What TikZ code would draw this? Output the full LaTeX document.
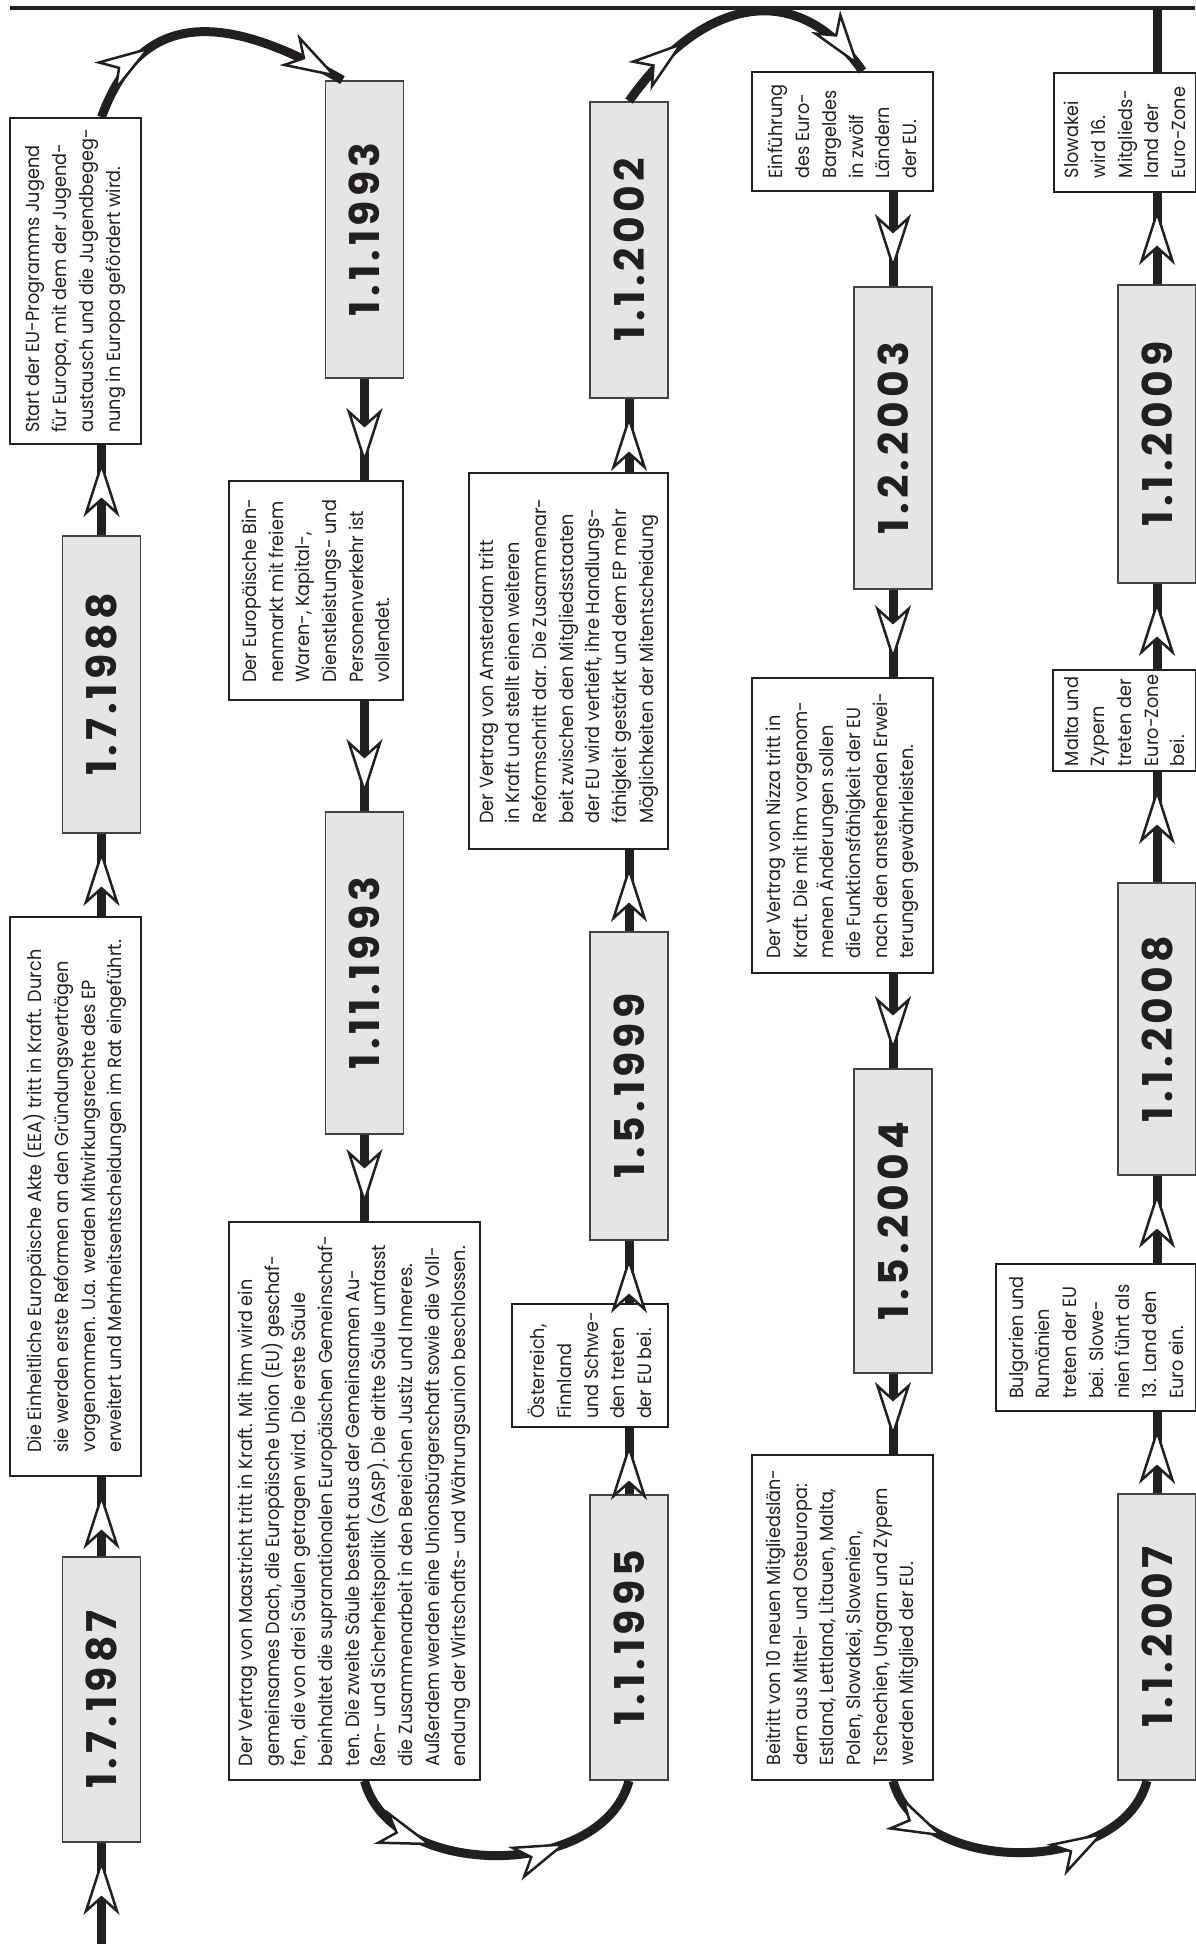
\documentclass[tikz,border=0pt]{standalone}
\usepackage{fontspec}
\setmainfont{Poppins}
\newfontfamily\bodyfont{Poppins}[FakeStretch=0.93]
\newfontfamily\datefont{Poppins}[LetterSpace=10]
\usetikzlibrary{arrows.meta, decorations.markings}
\definecolor{boxGray}{HTML}{E4E5E7}
\definecolor{inkBlack}{HTML}{231F20}
\tikzset{headTip/.tip={Stealth[length=56pt, width=36pt, inset=16pt, fill=white, line width=2.5pt]}}

\begin{document}
\begin{tikzpicture}[x=1pt, y=1pt, color=inkBlack,
    dateStyle/.style={draw=inkBlack!85, line width=1.8pt, fill=boxGray, rotate=90, minimum height=78pt, minimum width=#1, inner sep=0pt, font=\datefont\bfseries\fontsize{41}{41}\selectfont},
    textStyle/.style 2 args={draw=inkBlack, line width=1.8pt, fill=white, rotate=90, minimum height=#1, minimum width=#2, inner xsep=5pt, inner ysep=0pt, align=left, font=\bodyfont\fontsize{19}{26.7}\selectfont},
    flowStyle/.style={line width=9pt, decoration={markings, mark=at position -16pt with {\arrow{headTip}}}, postaction=decorate},
    bendStyle/.style 2 args={line width=9pt, decoration={markings, mark=at position #1 with {\arrow{headTip}}, mark=at position #2 with {\arrow{headTip}}}, postaction=decorate}]
    \useasboundingbox (0,0) rectangle (1195,-1944);
    \draw[line width=3.5pt] (10,-8) -- (1195,-8);

    \node[dateStyle=285pt](d1) at (101.5,-1699.5) {1.7.1987};
    \node[dateStyle=297pt](d2) at (101.5,-684.5) {1.7.1988};
    \node[dateStyle=297pt](d3) at (364.5,-229.5) {1.1.1993};
    \node[dateStyle=322pt](d4) at (364.5,-973) {1.11.1993};
    \node[dateStyle=285pt](d5) at (629,-1637.5) {1.1.1995};
    \node[dateStyle=308pt](d6) at (629,-1086) {1.5.1999};
    \node[dateStyle=296pt](d7) at (629,-250) {1.1.2002};
    \node[dateStyle=302pt](d8) at (893,-438) {1.2.2003};
    \node[dateStyle=304pt](d9) at (893,-1221) {1.5.2004};
    \node[dateStyle=286pt](d10) at (1157,-1637) {1.1.2007};
    \node[dateStyle=292pt](d11) at (1157,-1029) {1.1.2008};
    \node[dateStyle=298pt](d12) at (1157,-434) {1.1.2009};

    \node[textStyle={131pt}{559pt}](t1) at (75.5,-1196.5) {Die Einheitliche Europäische Akte (EEA) tritt in Kraft. Durch\\sie werden erste Reformen an den Gründungsverträgen\\vorgenommen. U.a. werden Mitwirkungsrechte des EP\\erweitert und Mehrheitsentscheidungen im Rat eingeführt.};
    \node[textStyle={131pt}{326pt}](t2) at (75.5,-281) {Start der EU-Programms Jugend\\für Europa, mit dem der Jugend-\\austausch und die Jugendbegeg-\\nung in Europa gefördert wird.};
    \node[textStyle={174pt}{219pt}](t3) at (316,-590.5) {Der Europäische Bin-\\nenmarkt mit freiem\\Waren-, Kapital-,\\Dienstleistungs- und\\Personenverkehr ist\\vollendet.};
    \node[textStyle={251pt}{558pt}](t4) at (354.5,-1501) {Der Vertrag von Maastricht tritt in Kraft. Mit ihm wird ein\\gemeinsames Dach, die Europäische Union (EU) geschaf-\\fen, die von drei Säulen getragen wird. Die erste Säule\\beinhaltet die supranationalen Europäischen Gemeinschaf-\\ten. Die zweite Säule besteht aus der Gemeinsamen Au-\\ßen- und Sicherheitspolitik (GASP). Die dritte Säule umfasst\\die Zusammenarbeit in den Bereichen Justiz und Inneres.\\Außerdem werden eine Unionsbürgerschaft sowie die Voll-\\endung der Wirtschafts- und Währungsunion beschlossen.};
    \node[textStyle={156pt}{123pt}](t5) at (590,-1365.5) {Österreich,\\Finnland\\und Schwe-\\den treten\\der EU bei.};
    \node[textStyle={199pt}{376pt}](t6) at (568.5,-661) {Der Vertrag von Amsterdam tritt\\in Kraft und stellt einen weiteren\\Reformschritt dar. Die Zusammenar-\\beit zwischen den Mitgliedsstaaten\\der EU wird vertieft, ihre Handlungs-\\fähigkeit gestärkt und dem EP mehr\\Möglichkeiten der Mitentscheidung};
    \node[textStyle={181pt}{119pt}](t7) at (842.5,-131.5) {Einführung\\des Euro-\\Bargeldes\\in zwölf\\Ländern\\der EU.};
    \node[textStyle={181pt}{295pt}](t8) at (842.5,-825.5) {Der Vertrag von Nizza tritt in\\Kraft. Die mit ihm vorgenom-\\menen Änderungen sollen\\die Funktionsfähigkeit der EU\\nach den anstehenden Erwei-\\terungen gewährleisten.};
    \node[textStyle={181pt}{325pt}](t9) at (842.5,-1617.5) {Beitritt von 10 neuen Mitgliedslän-\\dern aus Mittel- und Osteuropa:\\Estland, Lettland, Litauen, Malta,\\Polen, Slowakei, Slowenien,\\Tschechien, Ungarn und Zypern\\werden Mitglied der EU.};
    \node[textStyle={200pt}{147pt}](t10) at (1096,-1337.5) {Bulgarien und\\Rumänien\\treten der EU\\bei. Slowe-\\nien führt als\\13. Land den\\Euro ein.};
    \node[textStyle={143pt}{97pt}](t11) at (1124.5,-720.5) {Malta und\\Zypern\\treten der\\Euro-Zone\\bei.};
    \node[textStyle={142pt}{119pt}](t12) at (1125,-132.5) {Slowakei\\wird 16.\\Mitglieds-\\land der\\Euro-Zone};

    \coordinate (s0) at (101.5,-1944);
    \coordinate (e0) at (1157,-8);

    \draw[flowStyle] (s0) -- (d1.west);
    \draw[flowStyle] (d1.east) -- (d1.east |- t1.west);
    \draw[flowStyle] (t1.east -| d2) -- (d2.west);
    \draw[flowStyle] (d2.east) -- (d2.east |- t2.west);
    \draw[bendStyle={0.3}{-6pt}] (d2 |- t2.east) to[out=70, in=150, looseness=1.3] ([xshift=-22pt]d3.east);
    \draw[flowStyle] (d3.west) -- (d3.west |- t3.east);
    \draw[flowStyle] (t3.west -| d3) -- (d4.east);
    \draw[flowStyle] (d4.west) -- (d4.west |- t4.east);
    \draw[bendStyle={0.3}{0.72}] (t4.west -| d4) to[out=-75, in=-105] (d5.west);
    \draw[flowStyle] (d5.east) -- (d5.east |- t5.west);
    \draw[flowStyle] (t5.east -| d5) -- (d6.west);
    \draw[flowStyle] (d6.east) -- (d6.east |- t6.west);
    \draw[flowStyle] (t6.east -| d7) -- (d7.west);
    \draw[bendStyle={0.28}{-6pt}] (d7.east) to[out=55, in=125, looseness=1.3] ([xshift=20pt]t7.east);
    \draw[flowStyle] (t7.west -| d8) -- (d8.east);
    \draw[flowStyle] (d8.west) -- (d8.west |- t8.east);
    \draw[flowStyle] (t8.west -| d9) -- (d9.east);
    \draw[flowStyle] (d9.west) -- (d9.west |- t9.east);
    \draw[bendStyle={0.25}{0.78}] (t9.west -| d9) to[out=-75, in=-105] ([xshift=-10pt]d10.west);
    \draw[flowStyle] (d10.east) -- (d10.east |- t10.west);
    \draw[flowStyle] (t10.east -| d11) -- (d11.west);
    \draw[flowStyle] (d11.east) -- (d11.east |- t11.west);
    \draw[flowStyle] (t11.east -| d12) -- (d12.west);
    \draw[flowStyle] (d12.east) -- (d12.east |- t12.west);
    \draw[line width=9pt] (t12.east -| d12) -- (e0);
\end{tikzpicture}
\end{document}
